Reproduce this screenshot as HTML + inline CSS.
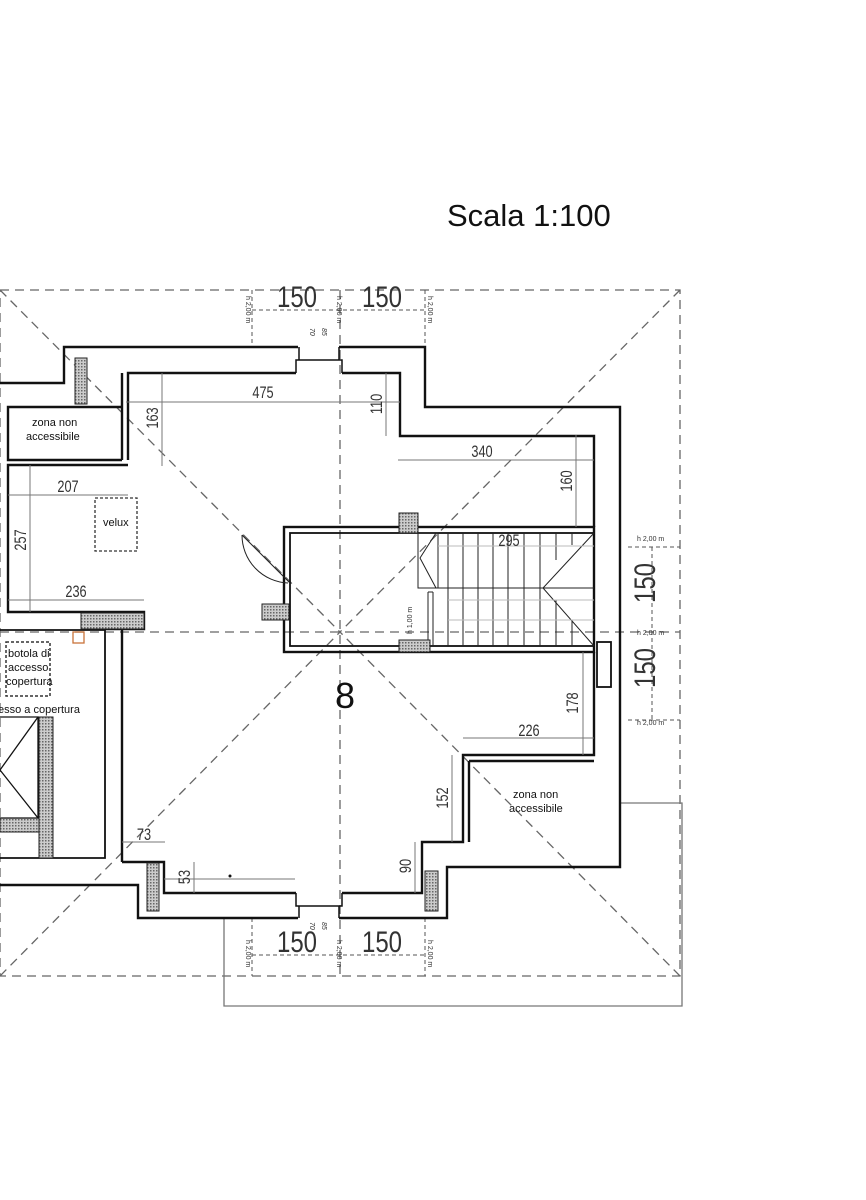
<!DOCTYPE html>
<html><head><meta charset="utf-8"><style>
html,body{margin:0;padding:0;background:#fff;}
svg{display:block;}
text{font-family:"Liberation Sans",sans-serif;}
.d{font-family:"Liberation Sans",sans-serif;fill:#333;}
</style></head><body>
<svg width="866" height="1200" viewBox="0 0 866 1200" xmlns="http://www.w3.org/2000/svg">
<defs>
<pattern id="h" width="3" height="3" patternUnits="userSpaceOnUse"><rect width="3" height="3" fill="#ccc"/><rect width="1.5" height="1.5" fill="#666"/></pattern>
</defs>
<text x="447" y="226" font-size="31" fill="#111">Scala 1:100</text>

<g stroke="#666" stroke-width="1.3" stroke-dasharray="9,6" fill="none">
<rect x="0" y="290" width="680" height="686"/>
<line x1="0" y1="290" x2="340" y2="632"/>
<line x1="680" y1="290" x2="340" y2="632"/>
<line x1="680" y1="976" x2="340" y2="632"/>
<line x1="0" y1="976" x2="340" y2="632"/>
<line x1="0" y1="632" x2="680" y2="632"/>
<line x1="340" y1="290" x2="340" y2="976"/>
</g>
<g stroke="#555" stroke-width="1" stroke-dasharray="4,3" fill="none">
<line x1="252" y1="310" x2="425" y2="310"/>
<line x1="252" y1="290" x2="252" y2="347"/>
<line x1="425" y1="290" x2="425" y2="347"/>
<line x1="252" y1="955" x2="425" y2="955"/>
<line x1="252" y1="918" x2="252" y2="976"/>
<line x1="425" y1="918" x2="425" y2="976"/>
<line x1="652" y1="547" x2="652" y2="720"/>
<line x1="628" y1="547" x2="680" y2="547"/>
<line x1="628" y1="720" x2="680" y2="720"/>
</g>
<g font-size="7" fill="#333">
<text transform="translate(246,296) rotate(90)">h 2,00 m</text>
<text transform="translate(337,296) rotate(90)">h 2,00 m</text>
<text transform="translate(428,296) rotate(90)">h 2,00 m</text>
<text transform="translate(246,940) rotate(90)">h 2,00 m</text>
<text transform="translate(337,940) rotate(90)">h 2,00 m</text>
<text transform="translate(428,940) rotate(90)">h 2,00 m</text>
<text x="637" y="541">h 2,00 m</text>
<text x="637" y="635">h 2,00 m</text>
<text x="637" y="725">h 2,00 m</text>
<text transform="translate(412,634) rotate(-90)">h 1,00 m</text>
<text transform="translate(310,328) rotate(90)" font-style="italic">70</text>
<text transform="translate(322,328) rotate(90)" font-style="italic">85</text>
<text transform="translate(310,922) rotate(90)" font-style="italic">70</text>
<text transform="translate(322,922) rotate(90)" font-style="italic">85</text>
</g>

<g stroke="#777" stroke-width="1.3" fill="none">
<polyline points="224,918 224,1006 682,1006 682,803 620,803"/>
</g>

<g stroke="#111" stroke-width="2.4" fill="none">
<polyline points="0,383 64,383 64,347 298,347"/>
<polyline points="339,347 425,347 425,407 620,407 620,867 447,867 447,918 339,918"/>
<polyline points="298,918 138,918 138,885 0,885"/>
<polyline points="342,373 400,373 400,436 594,436 594,527"/>
<polyline points="296,373 128,373 128,460"/>
<line x1="122" y1="373" x2="122" y2="460"/>
<polyline points="122,460 8,460 8,407 122,407"/>
<polyline points="128,465 8,465 8,612 144,612 144,629 81,629"/>
<line x1="122" y1="629" x2="122" y2="862"/>
<polyline points="122,862 164,862 164,893 296,893"/>
<polyline points="342,893 422,893 422,842 463,842 463,755 594,755 594,652"/>
<line x1="469" y1="761" x2="469" y2="842"/>
<polyline points="469,761 594,761"/>
<rect x="284" y="527" width="310" height="125"/>
<rect x="290" y="533" width="304" height="113" stroke-width="1.8"/>
<rect x="597" y="642" width="14" height="45" stroke-width="1.8"/>
<polyline points="0,630 105,630 105,858 0,858" stroke-width="1.8"/>
<polyline points="296,373 296,360 342,360 342,373" stroke-width="1.5"/>
<line x1="299" y1="347" x2="299" y2="360" stroke-width="1.5"/>
<line x1="339" y1="347" x2="339" y2="360" stroke-width="1.5"/>
<polyline points="296,893 296,906 342,906 342,893" stroke-width="1.5"/>
<line x1="299" y1="906" x2="299" y2="918" stroke-width="1.5"/>
<line x1="339" y1="906" x2="339" y2="918" stroke-width="1.5"/>
</g>

<g stroke="#222" stroke-width="1" fill="none">
<rect x="418" y="533" width="20" height="55"/>
<line x1="418" y1="588" x2="594" y2="588"/>
<line x1="428" y1="592" x2="428" y2="646"/>
<line x1="433" y1="592" x2="433" y2="646"/>
<line x1="433" y1="592" x2="428" y2="592"/>
<polyline points="436,533 420,558 436,588"/>
<polyline points="594,533 543,588 594,646"/>
<line x1="448" y1="533" x2="448" y2="588"/>
<line x1="463" y1="533" x2="463" y2="588"/><line x1="478" y1="533" x2="478" y2="588"/>
<line x1="493" y1="533" x2="493" y2="588"/><line x1="508" y1="533" x2="508" y2="588"/>
<line x1="524" y1="533" x2="524" y2="588"/><line x1="540" y1="533" x2="540" y2="588"/>
<line x1="556" y1="533" x2="556" y2="560"/><line x1="572" y1="533" x2="572" y2="545"/>
<line x1="448" y1="588" x2="448" y2="646"/><line x1="463" y1="588" x2="463" y2="646"/>
<line x1="478" y1="588" x2="478" y2="646"/><line x1="493" y1="588" x2="493" y2="646"/>
<line x1="508" y1="588" x2="508" y2="646"/><line x1="524" y1="588" x2="524" y2="646"/>
<line x1="540" y1="588" x2="540" y2="646"/><line x1="556" y1="600" x2="556" y2="646"/>
<line x1="572" y1="620" x2="572" y2="646"/>
<line x1="448" y1="600" x2="594" y2="600" stroke="#bbb"/>
<line x1="448" y1="620" x2="594" y2="620" stroke="#bbb"/>
<line x1="438" y1="546" x2="594" y2="546" stroke="#bbb"/>
<line x1="290" y1="583" x2="242" y2="535"/>
<path d="M242,535 A48,48 0 0 0 288,583"/>
</g>

<g fill="url(#h)" stroke="#222" stroke-width="1">
<rect x="75" y="358" width="12" height="46"/>
<rect x="81" y="613" width="63" height="16"/>
<rect x="262" y="604" width="27" height="16"/>
<rect x="399" y="513" width="19" height="20"/>
<rect x="399" y="640" width="31" height="12"/>
<rect x="147" y="863" width="12" height="48"/>
<rect x="425" y="871" width="13" height="40"/>
<rect x="39" y="717" width="14" height="141"/>
<rect x="0" y="818" width="39" height="14"/>
</g>
<g stroke="#111" stroke-width="1.3" fill="none">
<polyline points="0,717 38,717 38,818 0,818"/>
<line x1="38" y1="717" x2="0" y2="770"/>
<line x1="38" y1="818" x2="0" y2="770"/>
</g>
<rect x="73" y="632" width="11" height="11" fill="none" stroke="#c8743a" stroke-width="1.3"/>
<rect x="6" y="642" width="44" height="54" fill="none" stroke="#333" stroke-width="1.5" stroke-dasharray="3,2"/>
<rect x="95" y="498" width="42" height="53" fill="none" stroke="#333" stroke-width="1.3" stroke-dasharray="3,2"/>

<g font-size="11" fill="#111">
<text x="8" y="657">botola di</text>
<text x="8" y="671">accesso</text>
<text x="6" y="685">copertura</text>
<text x="-2" y="713">esso a copertura</text>
<text x="103" y="526">velux</text>
<text x="32" y="426">zona non</text>
<text x="26" y="440">accessibile</text>
<text x="513" y="798">zona non</text>
<text x="509" y="812">accessibile</text>
</g>
<text x="335" y="708" font-size="36" fill="#111">8</text>

<g stroke="#777" stroke-width="1" fill="none">
<line x1="126" y1="402" x2="400" y2="402"/>
<line x1="162" y1="373" x2="162" y2="466"/>
<line x1="386" y1="373" x2="386" y2="436"/>
<line x1="398" y1="460" x2="594" y2="460"/>
<line x1="576" y1="435" x2="576" y2="527"/>
<line x1="8" y1="495" x2="128" y2="495"/>
<line x1="30" y1="465" x2="30" y2="612"/>
<line x1="8" y1="600" x2="144" y2="600"/>
<line x1="583" y1="652" x2="583" y2="755"/>
<line x1="463" y1="738" x2="594" y2="738"/>
<line x1="452" y1="755" x2="452" y2="842"/>
<line x1="122" y1="842" x2="165" y2="842"/>
<line x1="194" y1="862" x2="194" y2="893"/>
<line x1="164" y1="879" x2="295" y2="879"/>
<line x1="415" y1="842" x2="415" y2="893"/>
</g>
<circle cx="230" cy="876" r="1.5" fill="#111"/>
<g class="d" font-size="17">
<text transform="translate(263,398) scale(0.75,1)" text-anchor="middle">475</text>
<text transform="translate(482,457) scale(0.75,1)" text-anchor="middle">340</text>
<text transform="translate(68,492) scale(0.75,1)" text-anchor="middle">207</text>
<text transform="translate(76,597) scale(0.75,1)" text-anchor="middle">236</text>
<text transform="translate(509,546) scale(0.75,1)" text-anchor="middle">295</text>
<text transform="translate(529,736) scale(0.75,1)" text-anchor="middle">226</text>
<text transform="translate(144,840) scale(0.75,1)" text-anchor="middle">73</text>
<text transform="translate(158,418) rotate(-90) scale(0.75,1)" text-anchor="middle">163</text>
<text transform="translate(382,404) rotate(-90) scale(0.75,1)" text-anchor="middle">110</text>
<text transform="translate(572,481) rotate(-90) scale(0.75,1)" text-anchor="middle">160</text>
<text transform="translate(26,540) rotate(-90) scale(0.75,1)" text-anchor="middle">257</text>
<text transform="translate(578,703) rotate(-90) scale(0.75,1)" text-anchor="middle">178</text>
<text transform="translate(448,798) rotate(-90) scale(0.75,1)" text-anchor="middle">152</text>
<text transform="translate(190,877) rotate(-90) scale(0.75,1)" text-anchor="middle">53</text>
<text transform="translate(411,866) rotate(-90) scale(0.75,1)" text-anchor="middle">90</text>
</g>
<g class="d" font-size="30">
<text transform="translate(297,307) scale(0.8,1)" text-anchor="middle">150</text>
<text transform="translate(382,307) scale(0.8,1)" text-anchor="middle">150</text>
<text transform="translate(297,952) scale(0.8,1)" text-anchor="middle">150</text>
<text transform="translate(382,952) scale(0.8,1)" text-anchor="middle">150</text>
<text transform="translate(655,583) rotate(-90) scale(0.8,1)" text-anchor="middle">150</text>
<text transform="translate(655,668) rotate(-90) scale(0.8,1)" text-anchor="middle">150</text>
</g>
</svg>
</body></html>
